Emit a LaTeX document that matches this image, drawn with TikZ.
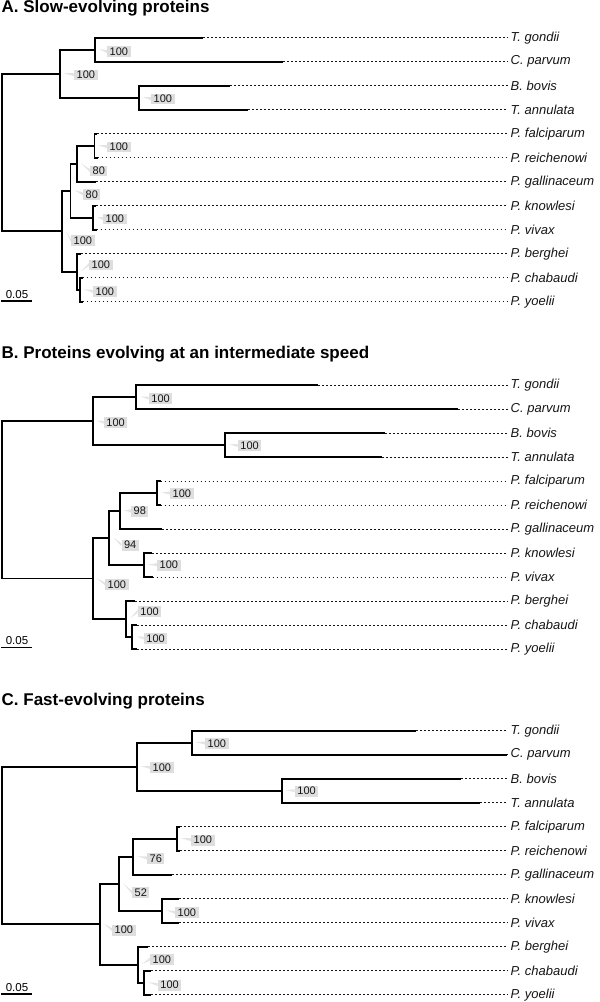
\documentclass[tikz,border=0pt]{standalone}
\usepackage{fontspec}
\setsansfont{Liberation Sans}
\usepackage{tikz}
\usetikzlibrary{positioning}
\definecolor{cBoot}{HTML}{DEDEDE}
\definecolor{cTail}{HTML}{E4E4E4}
\definecolor{cInk}{HTML}{151515}

\begin{document}
\begin{tikzpicture}[
  x=1pt, y=-1pt,
  font=\sffamily,
  br/.style={draw=black, line width=1.8pt},
  dots/.style={draw=cInk, line width=1pt, dash pattern=on 1.8pt off 2.2pt},
  taxon/.style={anchor=west, inner xsep=3pt, inner ysep=1pt, text=cInk,
                font=\sffamily\itshape\fontsize{13}{15}\selectfont},
  boot/.style={fill=cBoot, inner xsep=2.5pt, inner ysep=1.6pt, text=cInk,
               font=\sffamily\fontsize{11}{13}\selectfont},
  tail/.style={fill=cTail},
  ttl/.style={anchor=base west, inner sep=0pt,
              font=\sffamily\bfseries\fontsize{17}{20}\selectfont},
  scl/.style={anchor=base, inner sep=0pt, font=\sffamily\fontsize{11.5}{13}\selectfont},
  sbar/.style={draw=black, line width=1.1pt}]

\useasboundingbox (0,0) rectangle (600,1002);

% ================= (A) slow-evolving =================
\node[ttl] (A-ttl) at (1.5,12.5) {A. Slow-evolving proteins};
\foreach \nm/\lab/\xe [count=\i from 0] in {tgo/T. gondii/202.7, cpa/C. parvum/283.3,
    bbo/B. bovis/230, tan/T. annulata/248.3, pfa/P. falciparum/97, pre/P. reichenowi/97.5,
    pga/P. gallinaceum/96, pkn/P. knowlesi/96, pvi/P. vivax/96.5, pbe/P. berghei/81,
    pch/P. chabaudi/82.5, pyo/P. yoelii/82.5} {
  \coordinate (A-\nm) at (\xe,37.7+24*\i);
  \node[taxon] (A-\nm-t) at (507.5,37.7+24*\i) {\lab};
  \draw[dots] (A-\nm) -- (A-\nm-t);
}
\coordinate (A-root) at (2,152);
\coordinate (A-a1) at (60,73.7);
\coordinate (A-a2) at (95,49.7);
\coordinate (A-a3) at (139,97.7);
\coordinate (A-p0) at (61.7,231.2);
\coordinate (A-p1) at (70.5,190.7);
\coordinate (A-p2) at (77,163.7);
\coordinate (A-p3) at (94.5,145.7);
\coordinate (A-p4) at (93.3,217.7);
\coordinate (A-p5) at (76.7,271.7);
\coordinate (A-p6) at (80,289.7);
\foreach \nm/\dx/\dy/\v in {a1/14/1.3/100, a2/12/2/100, a3/12/1.3/100, p3/12.5/1.3/100,
    p2/13/7.3/80, p1/12.5/3.6/80, p4/9.7/1.3/100, p0/9.3/9.5/100, p5/12.3/-6.7/100,
    p6/13/2/100} {
  \node[boot, right=\dx pt of A-\nm, yshift=-\dy pt] (A-\nm-bs) {\v};
  \fill[tail] ([xshift=4pt,yshift=0.5pt]A-\nm) -- ([yshift=1.8pt]A-\nm-bs.west)
    -- ([yshift=-1.2pt]A-\nm-bs.west) -- cycle;
}
\coordinate (A-sb0) at (1,301);
\coordinate (A-sb1) at (32,301);
\draw[sbar] (A-sb0) -- (A-sb1);
\node[scl] (A-sl) at (17,298) {0.05};

% ================= (B) intermediate =================
\begin{scope}[shift={(0,347.3)}]
\node[ttl] (B-ttl) at (1.5,11) {B. Proteins evolving at an intermediate speed};
\foreach \nm/\lab/\xe [count=\i from 0] in {tgo/T. gondii/318.3, cpa/C. parvum/458.3,
    bbo/B. bovis/385, tan/T. annulata/381.7, pfa/P. falciparum/160.5, pre/P. reichenowi/160.5,
    pga/P. gallinaceum/162.3, pkn/P. knowlesi/152, pvi/P. vivax/152.5, pbe/P. berghei/135,
    pch/P. chabaudi/137, pyo/P. yoelii/137} {
  \coordinate (B-\nm) at (\xe,37.7+24*\i);
  \node[taxon] (B-\nm-t) at (507.5,37.7+24*\i) {\lab};
  \draw[dots] (B-\nm) -- (B-\nm-t);
}
\coordinate (B-root) at (2,152);
\coordinate (B-a1) at (92.7,73.7);
\coordinate (B-a2) at (136,49.7);
\coordinate (B-a3) at (225.3,97.7);
\coordinate (B-p0) at (92.7,231.2);
\coordinate (B-p1) at (109.3,190.7);
\coordinate (B-p2) at (120,163.7);
\coordinate (B-p3) at (157.3,145.7);
\coordinate (B-p4) at (144,217.7);
\coordinate (B-p5) at (126,271.7);
\coordinate (B-p6) at (132.3,289.7);
\foreach \nm/\dx/\dy/\v in {a1/11/1.7/100, a2/12.7/1.3/100, a3/12.4/0.7/100, p3/12.7/0.3/100,
    p2/11/0/98, p1/12/7/94, p4/13/0/100, p0/12.3/5.8/100, p5/11.7/-7.3/100,
    p6/11.4/1.3/100} {
  \node[boot, right=\dx pt of B-\nm, yshift=-\dy pt] (B-\nm-bs) {\v};
  \fill[tail] ([xshift=4pt,yshift=0.5pt]B-\nm) -- ([yshift=1.8pt]B-\nm-bs.west)
    -- ([yshift=-1.2pt]B-\nm-bs.west) -- cycle;
}
\coordinate (B-sb0) at (1,300);
\coordinate (B-sb1) at (32,300);
\draw[sbar] (B-sb0) -- (B-sb1);
\node[scl] (B-sl) at (17,297.5) {0.05};
\end{scope}

% ================= (C) fast-evolving =================
\begin{scope}[shift={(0,693)}]
\node[ttl] (C-ttl) at (1.5,12) {C. Fast-evolving proteins};
\foreach \nm/\lab/\xe [count=\i from 0] in {tgo/T. gondii/416, cpa/C. parvum/506.7,
    bbo/B. bovis/461, tan/T. annulata/480, pfa/P. falciparum/180, pre/P. reichenowi/180,
    pga/P. gallinaceum/171.7, pkn/P. knowlesi/179, pvi/P. vivax/179, pbe/P. berghei/148,
    pch/P. chabaudi/151, pyo/P. yoelii/151} {
  \coordinate (C-\nm) at (\xe,37.7+24*\i);
  \node[taxon] (C-\nm-t) at (507.5,37.7+24*\i) {\lab};
  \draw[dots] (C-\nm) -- (C-\nm-t);
}
\coordinate (C-root) at (2,152);
\coordinate (C-a1) at (136.7,73.7);
\coordinate (C-a2) at (191.7,49.7);
\coordinate (C-a3) at (281.7,97.7);
\coordinate (C-p0) at (100,231.2);
\coordinate (C-p1) at (119,190.7);
\coordinate (C-p2) at (133.3,163.7);
\coordinate (C-p3) at (177.3,145.7);
\coordinate (C-p4) at (162.3,217.7);
\coordinate (C-p5) at (137.7,271.7);
\coordinate (C-p6) at (144.3,289.7);
\foreach \nm/\dx/\dy/\v in {a1/13.3/1/100, a2/13.3/0.6/100, a3/13/0.3/100, p3/13.7/1.3/100,
    p2/13.7/1.6/76, p1/13/9/52, p4/12.7/2/100, p0/12/5.8/100, p5/12.3/-5.4/100,
    p6/13.4/2.3/100} {
  \node[boot, right=\dx pt of C-\nm, yshift=-\dy pt] (C-\nm-bs) {\v};
  \fill[tail] ([xshift=4pt,yshift=0.5pt]C-\nm) -- ([yshift=1.8pt]C-\nm-bs.west)
    -- ([yshift=-1.2pt]C-\nm-bs.west) -- cycle;
}
\coordinate (C-sb0) at (1,301);
\coordinate (C-sb1) at (32,301);
\draw[sbar] (C-sb0) -- (C-sb1);
\node[scl] (C-sl) at (17,298) {0.05};
\end{scope}

% ---- branches (same topology in all three trees) ----
\foreach \pn in {A,B,C}
  \foreach \u/\v in {root/a1, root/p0, a1/a2, a1/a3, a2/tgo, a2/cpa, a3/bbo, a3/tan,
      p0/p1, p0/p5, p1/p2, p1/p4, p2/p3, p2/pga, p3/pfa, p3/pre, p4/pkn, p4/pvi,
      p5/pbe, p5/p6, p6/pch, p6/pyo}
    \draw[br] (\pn-\u) |- (\pn-\v);
\end{tikzpicture}
\end{document}
